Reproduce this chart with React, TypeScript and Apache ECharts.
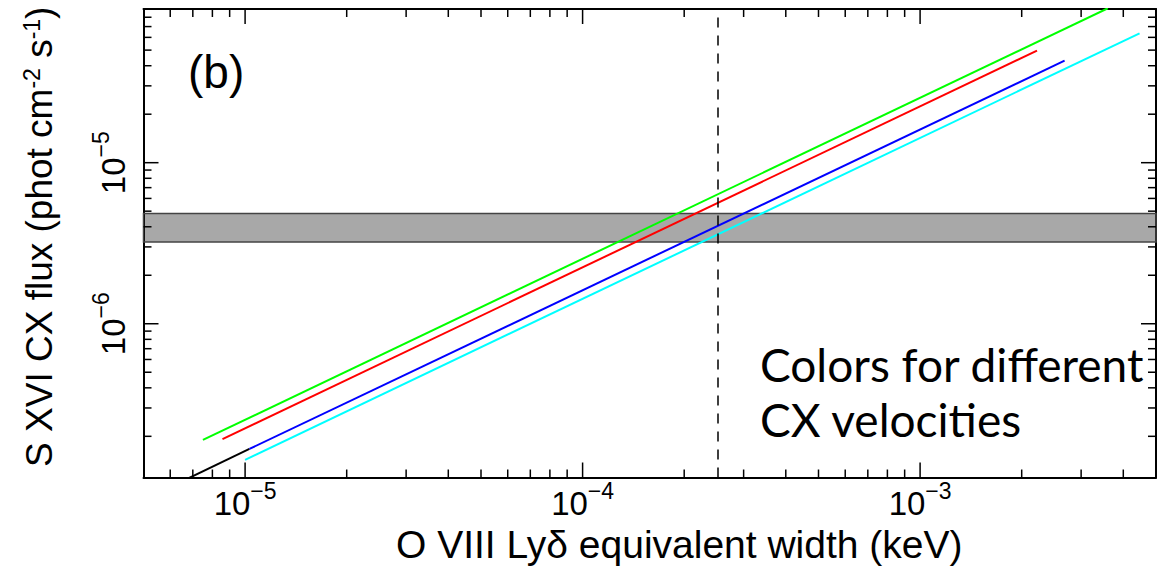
import React, { useEffect, useRef } from "react";
import * as echarts from "echarts";

// ---- data (raw values; plotted on log10 scales) ----
const xMin = 5e-6;
const xMax = 5e-3;
const yMin = 1.11e-7;
const yMax = 9.0e-5;

const xMajorTicks = [1e-5, 1e-4, 1e-3];
const xMinorTicks = [
  6e-6, 7e-6, 8e-6, 9e-6,
  2e-5, 3e-5, 4e-5, 5e-5, 6e-5, 7e-5, 8e-5, 9e-5,
  2e-4, 3e-4, 4e-4, 5e-4, 6e-4, 7e-4, 8e-4, 9e-4,
  2e-3, 3e-3, 4e-3,
];
const yMajorTicks = [1e-6, 1e-5];
const yMinorTicks = [
  2e-7, 3e-7, 4e-7, 5e-7, 6e-7, 7e-7, 8e-7, 9e-7,
  2e-6, 3e-6, 4e-6, 5e-6, 6e-6, 7e-6, 8e-6, 9e-6,
  2e-5, 3e-5, 4e-5, 5e-5, 6e-5, 7e-5, 8e-5,
];

// equivalent width (keV) / flux (phot cm^-2 s^-1) end points of each line
const greenEW = [7.5e-6, 3.6e-3];
const greenFlux = [1.9e-7, 9.1e-5];
const redEW = [8.57e-6, 2.22e-3];
const redFlux = [1.92e-7, 4.97e-5];
const blueEW = [1.03e-5, 2.68e-3];
const blueFlux = [1.67e-7, 4.3e-5];
const blackEW = [6.5e-6, 1.03e-5];
const blackFlux = [1.05e-7, 1.67e-7];
const cyanEW = [1.0e-5, 4.47e-3];
const cyanFlux = [1.43e-7, 6.36e-5];

const bandFlux = [3.22e-6, 4.83e-6];
const dashedEW = 2.5e-4;

const AXIS_FONT = "'Liberation Sans', Arial, Helvetica, sans-serif";
const NOTE_FONT = "Lato, 'Open Sans', sans-serif";

const lg = (v: number) => Math.log10(v);
const zipLog = (xs: number[], ys: number[]) => xs.map((x, i) => [lg(x), lg(ys[i])]);

const X0 = lg(xMin), X1 = lg(xMax), Y0 = lg(yMin), Y1 = lg(yMax);

const isDecade = (v: number) => Math.abs(v - Math.round(v)) < 1e-6;
const supMinus = (v: number) =>
  isDecade(v) ? `{b|10}{s|\u2212${Math.abs(Math.round(v))}}` : "";

const labelRich = {
  b: { fontSize: 33, fontFamily: AXIS_FONT, color: "#000", lineHeight: 40, verticalAlign: "bottom" },
  s: { fontSize: 23, fontFamily: AXIS_FONT, color: "#000", lineHeight: 23, verticalAlign: "top" },
};

function makeAxis(dim: "x" | "y", position: string, withLabels: boolean, extra: any = {}) {
  const isX = dim === "x";
  return {
    type: "value",
    min: isX ? X0 : Y0,
    max: isX ? X1 : Y1,
    minInterval: 1,
    maxInterval: 1,
    position,
    axisLine: { show: true, onZero: false, lineStyle: { color: "#000", width: 2 } },
    axisTick: { show: false },
    axisLabel: withLabels
      ? {
          show: true,
          formatter: (v: number) => supMinus(v),
          rich: labelRich,
          margin: isX ? 2 : 14,
          rotate: isX ? 0 : 90,
        }
      : { show: false },
    splitLine: { show: false },
    ...extra,
  };
}

// custom series drawing one inward tick mark per value on one edge
function tickSeries(edge: "bottom" | "top" | "left" | "right", values: number[], len: number) {
  const isX = edge === "bottom" || edge === "top";
  const fixed = edge === "bottom" ? Y0 : edge === "top" ? Y1 : edge === "left" ? X0 : X1;
  return {
    type: "custom",
    data: values.map((v) => (isX ? [lg(v), fixed] : [fixed, lg(v)])),
    renderItem: (_params: any, api: any) => {
      const a = api.coord([api.value(0), api.value(1)]);
      let x2 = a[0];
      let y2 = a[1];
      if (edge === "bottom") y2 = a[1] - len;
      else if (edge === "top") y2 = a[1] + len;
      else if (edge === "left") x2 = a[0] + len;
      else x2 = a[0] - len;
      return {
        type: "line",
        shape: { x1: a[0], y1: a[1], x2, y2 },
        style: { stroke: "#000", lineWidth: 1.5 },
      };
    },
  };
}

export default function App() {
  const ref = useRef<HTMLDivElement>(null);

  useEffect(() => {
    if (!ref.current) return;
    const chart = echarts.init(ref.current, undefined, { renderer: "svg" });

    const lineSeries = (name: string, xs: number[], ys: number[], color: string) => ({
      name,
      type: "line",
      data: zipLog(xs, ys),
      symbol: "none",
      showSymbol: false,
      lineStyle: { color, width: 2 },
      itemStyle: { color },
    });

    const green: any = lineSeries("green", greenEW, greenFlux, "#00ff00");
    green.markArea = {
      silent: true,
      itemStyle: { color: "rgba(0,0,0,0.34)", borderColor: "#444", borderWidth: 1.5 },
      data: [[{ yAxis: lg(bandFlux[0]) }, { yAxis: lg(bandFlux[1]) }]],
    };
    green.markLine = {
      silent: true,
      symbol: ["none", "none"],
      label: { show: false },
      lineStyle: { color: "#000", type: [10, 8], width: 1.5 },
      data: [{ xAxis: lg(dashedEW) }],
    };

    const titleStyle = (fontSize: number, fontFamily: string) => ({
      fontSize,
      fontFamily,
      fontWeight: "normal",
      color: "#000",
      lineHeight: fontSize,
    });

    const option = {
      animation: false,
      title: [
        { text: "(b)", left: 188, top: 49, padding: 0, textStyle: titleStyle(46, AXIS_FONT) },
        { text: "Colors for different", left: 760, top: 341, padding: 0, textStyle: titleStyle(46, NOTE_FONT) },
        { text: "CX velocities", left: 760, top: 396, padding: 0, textStyle: titleStyle(46, NOTE_FONT) },
        {
          text: "O VIII Ly\u03b4 equivalent width (keV)",
          left: 396,
          top: 525,
          padding: 0,
          textStyle: titleStyle(39, AXIS_FONT),
        },
      ],
      grid: { left: 143.5, top: 9, right: 11, bottom: 89.5 },
      xAxis: [makeAxis("x", "bottom", true), makeAxis("x", "top", false)],
      yAxis: [
        makeAxis("y", "left", true, {
          name: "S XVI CX flux (phot cm{s|-2} s{s|-1})",
          nameLocation: "middle",
          nameGap: 86,
          nameRotate: 90,
          nameTextStyle: {
            fontSize: 37,
            fontFamily: AXIS_FONT,
            color: "#000",
            lineHeight: 37,
            padding: [0, 0, 0, 13],
            rich: {
              s: { fontSize: 23, fontFamily: AXIS_FONT, color: "#000", verticalAlign: "top", lineHeight: 22 },
            },
          },
        }),
        makeAxis("y", "right", false),
      ],
      series: [
        tickSeries("bottom", xMajorTicks, 15),
        tickSeries("top", xMajorTicks, 15),
        tickSeries("bottom", xMinorTicks, 8),
        tickSeries("top", xMinorTicks, 8),
        tickSeries("left", yMajorTicks, 15),
        tickSeries("right", yMajorTicks, 15),
        tickSeries("left", yMinorTicks, 8),
        tickSeries("right", yMinorTicks, 8),
        lineSeries("black", blackEW, blackFlux, "#000000"),
        lineSeries("cyan", cyanEW, cyanFlux, "#00ffff"),
        lineSeries("blue", blueEW, blueFlux, "#0000ff"),
        lineSeries("red", redEW, redFlux, "#ff0000"),
        green,
      ],
    };

    chart.setOption(option as any);
    return () => chart.dispose();
  }, []);

  return (
    <div
      ref={ref}
      style={{ position: "fixed", left: 0, top: 0, width: 1167, height: 567, background: "#fff" }}
    />
  );
}
